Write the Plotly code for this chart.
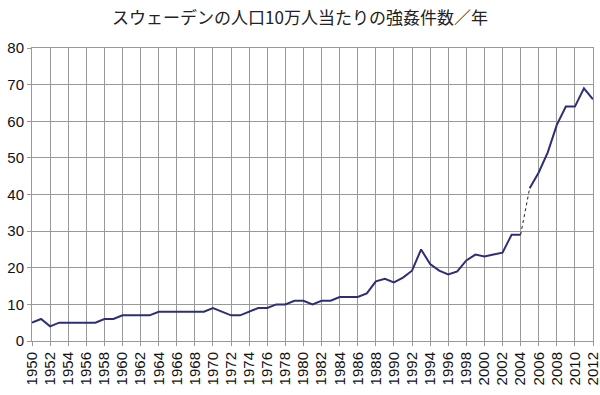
import plotly.graph_objects as go

years = list(range(1950, 2013))
values = [5, 6, 4, 5, 5, 5, 5, 5, 6, 6,
          7, 7, 7, 7, 8, 8, 8, 8, 8, 8,
          9, 8, 7, 7, 8, 9, 9, 10, 10, 11,
          11, 10, 11, 11, 12, 12, 12, 13, 16.3, 17,
          16, 17.3, 19.2, 25, 21, 19.2, 18.2, 19, 22, 23.6,
          23.1, 23.6, 24.1, 29, 29, 41.7, 46, 51.5, 59, 64,
          64, 69, 66]
title_text = "スウェーデンの人口10万人当たりの強姦件数／年"
x_ticks = list(range(1950, 2013, 2))
y_ticks = list(range(0, 81, 10))

split_year = 2004
i = years.index(split_year)

line_color = "#2e2e78"
fig = go.Figure()
fig.add_trace(go.Scatter(x=years[:i + 1], y=values[:i + 1], mode="lines",
                         line=dict(color=line_color, width=2)))
fig.add_trace(go.Scatter(x=years[i + 1:], y=values[i + 1:], mode="lines",
                         line=dict(color=line_color, width=2)))
fig.add_trace(go.Scatter(x=years[i:i + 2], y=values[i:i + 2], mode="lines",
                         line=dict(color="#222222", width=1, dash="dot")))

fig.update_layout(
    width=600, height=395,
    margin=dict(l=32, r=7, t=48, b=54, autoexpand=False),
    paper_bgcolor="white", plot_bgcolor="white",
    showlegend=False,
    title=dict(text=title_text, x=0.5, xanchor="center", y=0.955, yanchor="middle",
               font=dict(family="Noto Sans CJK JP", size=17, color="#222222")),
    font=dict(family="Liberation Sans, Arial", size=14, color="#111111"),
)
fig.update_xaxes(range=[1950, 2012], tickmode="array", tickvals=x_ticks,
                 ticktext=[str(t) for t in x_ticks], tickangle=-90,
                 showgrid=True, gridcolor="#999999", gridwidth=1,
                 showline=True, linecolor="#999999", linewidth=1, mirror=True,
                 ticks="outside", ticklen=4, tickcolor="#999999",
                 tickfont=dict(size=15), zeroline=False, automargin=False,
                 ticklabeloverflow="allow")
fig.update_yaxes(range=[0, 80], tickmode="array", tickvals=y_ticks,
                 showgrid=True, gridcolor="#999999", gridwidth=1,
                 showline=True, linecolor="#999999", linewidth=1, mirror=True,
                 ticks="outside", ticklen=4, tickcolor="#999999",
                 tickfont=dict(size=15), zeroline=False, automargin=False)

fig.write_html("out.html", config={"displayModeBar": False},
               post_script="document.body.style.margin='0';document.body.style.padding='0';")
